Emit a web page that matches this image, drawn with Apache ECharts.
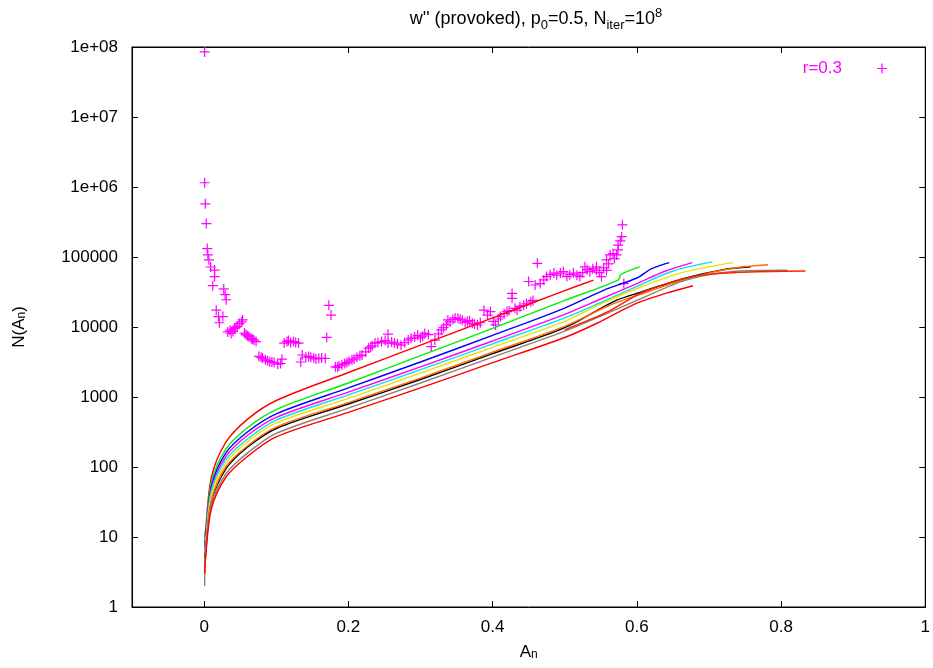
<!DOCTYPE html>
<html><head><meta charset="utf-8">
<script src="https://cdn.jsdelivr.net/npm/echarts@6/dist/echarts.min.js"></script>
<style>html,body{margin:0;padding:0;background:#fff}#c{width:933px;height:668px}</style>
</head><body><div id="c"></div>
<script>
const xTicks = [0, 0.2, 0.4, 0.6, 0.8, 1];
const yTicks = [1, 10, 100, 1000, 10000, 100000, 1e6, 1e7, 1e8];
const yTickLabels = ['1', '10', '100', '1000', '10000', '100000', '1e+06', '1e+07', '1e+08'];
const legendName = 'r=0.3';

const r03 = [
 [0.0007,8.5e7],[0.0007,1.15e6],[0.0017,5.75e5],[0.003,3.0e5],[0.0044,1.32e5],[0.0052,1.07e5],
 [0.0066,9.1e4],[0.009,7.2e4],[0.0145,6.5e4],[0.0145,5.25e4],[0.012,3.9e4],[0.0272,3.5e4],
 [0.0292,2.9e4],[0.0306,2.45e4],[0.0168,1.74e4],[0.020,1.41e4],[0.026,1.41e4],[0.0211,1.15e4],
 [0.0328,8500],[0.0374,8100],[0.042,9500],[0.046,10300],[0.049,11200],[0.0534,12600],
 [0.058,7800],[0.062,7300],[0.065,6900],[0.069,6500],[0.072,6200],[0.076,3800],[0.081,3600],
 [0.085,3400],[0.091,3200],[0.097,3100],[0.102,2950],[0.106,3000],[0.108,3470],[0.115,6200],
 [0.12,6000],[0.124,6200],[0.131,5900],[0.134,3160],[0.136,3980],[0.141,3700],[0.145,3800],
 [0.152,3600],[0.159,3550],[0.168,3550],[0.173,20400],[0.176,14800],[0.170,7100],[0.182,2700],
 [0.187,2800],[0.191,2880],[0.198,3100],[0.205,3400],[0.212,3700],[0.219,3980],[0.228,5000],
 [0.233,5400],[0.237,5900],[0.246,6200],[0.255,7900],[0.255,5900],[0.264,5900],[0.273,5500],
 [0.278,6000],[0.283,6500],[0.292,7200],[0.3,7000],[0.306,8100],[0.315,5250],[0.320,6500],
 [0.329,9100],[0.336,10700],[0.338,12600],[0.345,12800],[0.352,13200],[0.358,12500],[0.365,12000],
 [0.372,11300],[0.379,10700],[0.388,17400],[0.397,16600],[0.404,10700],[0.411,14100],[0.420,16600],
 [0.427,30200],[0.427,25700],[0.434,17400],[0.443,20400],[0.453,22900],[0.45,44700],[0.459,39800],
 [0.462,81300],[0.466,41700],[0.475,52500],[0.48,56000],[0.485,58900],[0.494,58900],[0.503,52500],
 [0.512,58900],[0.521,52500],[0.528,72400],[0.535,61700],[0.544,72400],[0.544,64600],[0.551,52500],
 [0.558,64600],[0.558,91200],[0.563,107000],[0.567,112000],[0.572,107000],[0.574,126000],
 [0.574,148000],[0.579,195000],[0.580,288000],[0.582,41700],
 [0.036,9000],[0.040,8600],[0.044,9900],[0.052,11800],[0.056,8200],[0.060,7500],[0.067,6700],
 [0.079,3700],[0.088,3300],[0.094,3150],[0.111,5900],[0.117,6400],[0.127,6000],[0.148,3700],
 [0.155,3500],[0.163,3600],[0.185,2650],[0.195,3000],[0.201,3250],[0.208,3500],[0.216,3900],
 [0.224,4400],[0.231,5200],[0.241,6000],[0.251,6400],[0.26,6100],[0.268,5700],[0.287,6900],
 [0.296,7600],[0.303,7400],[0.311,7800],[0.325,8000],[0.332,9800],[0.341,11800],[0.348,13500],
 [0.355,12900],[0.362,11600],[0.368,12300],[0.375,11000],[0.383,11500],[0.393,14800],[0.401,12000],
 [0.408,13000],[0.416,15500],[0.423,17000],[0.431,18500],[0.438,19500],[0.447,21500],[0.456,24000],
 [0.471,47000],[0.489,55000],[0.498,62000],[0.507,56000],[0.517,55000],[0.525,60000],[0.531,66000],
 [0.539,68000],[0.548,60000],[0.554,70000],[0.561,80000],[0.569,95000],[0.577,170000]
];

const curveRed1 = [[0.0007,10],[0.002,12.6],[0.01,70.8],[0.03,224],[0.06,479],[0.1,891],[0.2,2239],[0.3,5495],[0.4,13490],[0.5,33110],[0.54,46770]];
const curveGreen = [[0.0007,8],[0.002,11.2],[0.01,60.3],[0.03,178],[0.06,363],[0.1,661],[0.2,1585],[0.3,3890],[0.4,9550],[0.5,23990],[0.574,46770],[0.578,56230],[0.604,72440]];
const curveBlue = [[0.0007,7],[0.002,10],[0.01,52.5],[0.03,158],[0.06,316],[0.1,575],[0.2,1349],[0.3,3162],[0.4,7586],[0.5,18620],[0.553,33110],[0.6,50120],[0.62,67610],[0.645,83180]];
const curveMagenta = [[0.0007,6],[0.002,8.9],[0.01,47.9],[0.03,141],[0.06,282],[0.1,513],[0.2,1175],[0.3,2692],[0.4,6310],[0.5,15140],[0.55,25120],[0.6,41690],[0.64,63100],[0.677,83180]];
const curveCyan = [[0.0007,5],[0.002,7.9],[0.01,44.7],[0.03,126],[0.06,251],[0.1,468],[0.2,1072],[0.3,2455],[0.4,5754],[0.5,13490],[0.55,22390],[0.6,38020],[0.65,63100],[0.705,85110]];
const curveYellow = [[0.0007,4],[0.002,7.1],[0.01,39.8],[0.03,112],[0.06,229],[0.1,427],[0.2,955],[0.3,2188],[0.4,5129],[0.5,12020],[0.55,21380],[0.6,35480],[0.66,58880],[0.7,72440],[0.733,83180]];
const curveBlack = [[0.0007,5],[0.002,6.3],[0.01,31.6],[0.03,93.3],[0.06,191],[0.1,355],[0.2,794],[0.3,1778],[0.4,4169],[0.5,9772],[0.567,22910],[0.6,30200],[0.668,50120],[0.72,66070],[0.758,72440]];
const curveOrange = [[0.0007,3],[0.002,6.3],[0.01,33.1],[0.03,100],[0.06,200],[0.1,372],[0.2,832],[0.3,1862],[0.4,4365],[0.5,10230],[0.56,19950],[0.6,28180],[0.68,52480],[0.74,70790],[0.782,77620]];
const curveGray = [[0.0007,2],[0.002,5.6],[0.01,28.2],[0.03,79.4],[0.06,158],[0.1,302],[0.2,692],[0.3,1585],[0.4,3715],[0.5,8710],[0.56,15850],[0.6,23990],[0.668,46770],[0.73,61660],[0.809,64570]];
const curveRed3 = [[0.5,9120],[0.56,16600],[0.609,31620],[0.678,52480],[0.74,60260],[0.834,63100]];
const curveRed2 = [[0.0007,3],[0.002,5.0],[0.01,25.1],[0.03,70.8],[0.06,141],[0.1,269],[0.2,603],[0.3,1349],[0.4,3090],[0.5,7079],[0.544,11220],[0.6,21880],[0.64,30200],[0.678,38900]];

const curves = [curveRed1, curveGreen, curveBlue, curveMagenta, curveCyan, curveYellow, curveBlack, curveOrange, curveGray, curveRed3, curveRed2];
const curveColors = ['#ff0000','#00ee00','#0000ff','#ff00ff','#00e5ee','#f0e000','#000000','#ff6a00','#8a8078','#ff2000','#ff0000'];

const FONT = "'Liberation Sans', Arial, sans-serif";
const plus = 'path://M4.4,0h1.2v4.4h4.4v1.2h-4.4v4.4h-1.2v-4.4h-4.4v-1.2h4.4z';

const chart = echarts.init(document.getElementById('c'), null, {renderer: 'canvas'});
const series = [{
  name: legendName, type: 'scatter', data: r03, symbol: plus, symbolSize: 10,
  itemStyle: {color: '#ff00ff', opacity: 1}, z: 2, silent: true
}];
curves.forEach((d, i) => series.push({
  type: 'line', data: d, showSymbol: false, smooth: 0.3,
  lineStyle: {color: curveColors[i], width: 1.4}, itemStyle: {color: curveColors[i]}, z: 3, silent: true
}));

const subRich = {
  s: {fontSize: 12, fontFamily: FONT, verticalAlign: 'bottom', lineHeight: 13, padding: [8, 0, 0, 0]},
  u: {fontSize: 12, fontFamily: FONT, verticalAlign: 'top', lineHeight: 13, padding: [0, 0, 8, 0]}
};
const titleRich = {
  s: {fontSize: 13, fontFamily: FONT, verticalAlign: 'bottom', lineHeight: 14, padding: [9, 0, 0, 0]},
  u: {fontSize: 13, fontFamily: FONT, verticalAlign: 'top', lineHeight: 14, padding: [0, 0, 9, 0]}
};

chart.setOption({
  animation: false,
  backgroundColor: '#fff',
  title: {
    text: "w'' (provoked), p{s|0}=0.5, N{s|iter}=10{u|8}",
    left: 531, top: 2, textAlign: 'center',
    textStyle: {fontSize: 18, fontWeight: 'normal', color: '#000', fontFamily: FONT, lineHeight: 25, rich: titleRich}
  },
  legend: {
    data: [{name: legendName, icon: plus}], right: 41, top: 55, align: 'right',
    itemWidth: 10, itemHeight: 10,
    textStyle: {color: '#ff00ff', fontSize: 17, fontFamily: FONT, padding: [0, 30, 0, 0]}
  },
  grid: {left: 132, right: 2, top: 47, bottom: 61, show: true, borderColor: '#000', borderWidth: 1, backgroundColor: 'transparent'},
  xAxis: [{
    type: 'value', min: -0.1, max: 1, position: 'bottom',
    name: 'A{s|n}', nameLocation: 'middle', nameGap: 36,
    nameTextStyle: {fontSize: 17, color: '#000', fontFamily: FONT, rich: subRich},
    axisLine: {show: true, onZero: false, lineStyle: {color: '#000'}},
    axisTick: {show: true, inside: true, length: 6, customValues: xTicks, lineStyle: {color: '#000'}},
    axisLabel: {customValues: xTicks, formatter: v => String(v), color: '#000', fontSize: 17, fontFamily: FONT, margin: 12},
    splitLine: {show: false}
  }, {
    type: 'value', min: -0.1, max: 1, position: 'top',
    axisLine: {show: true, onZero: false, lineStyle: {color: '#000'}},
    axisTick: {show: true, inside: true, length: 6, customValues: xTicks, lineStyle: {color: '#000'}},
    axisLabel: {show: false}, splitLine: {show: false}
  }],
  yAxis: [{
    type: 'log', logBase: 10, min: 1, max: 1e8, position: 'left', interval: 1,
    name: 'N(A{s|n})', nameLocation: 'middle', nameGap: 104, nameRotate: 90,
    nameTextStyle: {fontSize: 17, color: '#000', fontFamily: FONT, rich: subRich},
    axisLine: {show: true, onZero: false, lineStyle: {color: '#000'}},
    axisTick: {show: true, inside: true, length: 6, lineStyle: {color: '#000'}},
    axisLabel: {formatter: v => { const k = yTicks.findIndex(t => Math.abs(Math.log10(t) - Math.log10(v)) < 1e-6); return k >= 0 ? yTickLabels[k] : ''; },
      color: '#000', fontSize: 17, fontFamily: FONT, margin: 14},
    splitLine: {show: false}
  }, {
    type: 'log', logBase: 10, min: 1, max: 1e8, position: 'right', interval: 1,
    axisLine: {show: true, onZero: false, lineStyle: {color: '#000'}},
    axisTick: {show: true, inside: true, length: 6, lineStyle: {color: '#000'}},
    axisLabel: {show: false}, splitLine: {show: false}
  }],
  series: series
});
</script>
</body></html>
